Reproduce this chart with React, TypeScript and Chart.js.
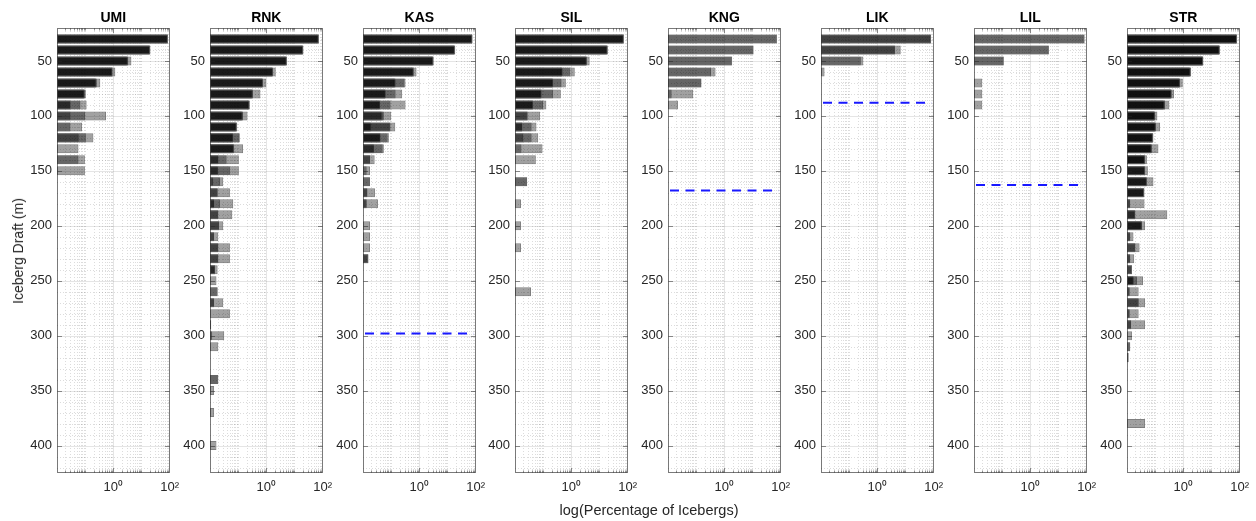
import React, { useEffect, useRef } from 'react';
import { Chart, registerables } from 'chart.js';

Chart.register(...registerables);

const N = null;

// ---- data ----
const PANEL_NAMES = ['UMI', 'RNK', 'KAS', 'SIL', 'KNG', 'LIK', 'LIL', 'STR'];
const DRAFT_START = 30; // centre of first 10 m draft bin
const DRAFT_STEP = 10;
const Y_TICKS = [50, 100, 150, 200, 250, 300, 350, 400];
const X_TICKS = [1, 100];
const X_MIN = 0.01;
const X_MAX = 100;
const Y_MIN = 20;
const Y_MAX = 425;

// percentage of icebergs per draft bin (30, 40, 50, ... m), one array per survey
const UMI = [
  [88, 21, 4.4, 1.18, 0.345, 0.106, 0.113, 0.55, 0.078, 0.196, 0.058, 0.098, 0.098],
  [87, 20, 3.4, 0.95, 0.26, 0.098, 0.068, 0.1, 0.03, 0.106, N, 0.058],
  [86, 20, 3.3, 0.92, 0.25, 0.095, 0.03, 0.03, N, 0.059],
  [85, 19.5, 3.2, 0.9, 0.24, 0.092, 0.03],
  [84, 19, 3.0, 0.85, 0.22, 0.088],
];
const RNK = [
  [74, 21, 5.5, 2.17, 1.0, 0.62, 0.26, 0.216, 0.093, 0.115, 0.15, 0.106, 0.106, 0.0296, 0.051, 0.067, 0.062, 0.0296, 0.0197, 0.051, 0.051, 0.0187, 0.017, 0.0187, 0.0296, 0.051, 0.011, 0.032, 0.0197, N, N, 0.0197, 0.014, N, 0.014, N, N, 0.017],
  [73, 20.5, 5.4, 1.74, 0.77, 0.34, 0.255, 0.15, 0.09, 0.11, 0.072, 0.039, 0.051, 0.0226, 0.0187, 0.0226, 0.0197, 0.021, 0.014, 0.0197, 0.0197, 0.015, N, 0.0187, 0.014, N, 0.011, 0.012, N, N, N, 0.0197],
  [72, 20, 5.2, 1.7, 0.75, 0.33, 0.25, 0.145, 0.088, 0.067, 0.07, 0.0197, 0.019, 0.013, 0.0187, 0.014, 0.0197, 0.021, 0.014, 0.0197, 0.0197, 0.015, N, N, 0.014],
  [71, 19.5, 5.0, 1.65, 0.72, 0.32, 0.24, 0.14, 0.085, 0.065, 0.068, 0.0197, 0.019, N, N, 0.014, N, N, N, N, N, 0.015],
  [70, 19, 4.8, 1.6, 0.7, 0.3, 0.23, 0.13, 0.08, 0.06, 0.065],
];
const KAS = [
  [78, 19, 3.26, 0.8, 0.325, 0.247, 0.325, 0.101, 0.14, 0.083, 0.055, 0.026, 0.0177, 0.0177, 0.0266, 0.034, N, 0.0177, 0.0177, 0.0177, 0.0155],
  [77, 18.5, 3.2, 0.64, 0.3, 0.144, 0.095, 0.055, 0.095, 0.075, 0.05, 0.0177, 0.0135, 0.0177, 0.0143, 0.0135, N, N, N, N, 0.0155],
  [76, 18, 3.1, 0.62, 0.144, 0.064, 0.04, 0.05, 0.09, 0.042, 0.0245, 0.0177, N, N, 0.0143, 0.0135, N, N, N, N, 0.0155],
  [75, 17.5, 3.0, 0.6, 0.14, 0.062, 0.04, 0.045, 0.0187, 0.04, 0.024],
  [74, 17, 2.9, 0.58, 0.13, 0.06, 0.038, N, 0.0187, 0.04],
];
const SIL = [
  [74, 20, 4.5, 1.33, 0.64, 0.425, 0.13, 0.077, 0.058, 0.067, 0.095, 0.055, N, 0.027, N, 0.0163, N, 0.0163, N, 0.0163, N, N, N, 0.037],
  [73, 19.5, 3.6, 0.89, 0.45, 0.227, 0.1, 0.028, 0.039, 0.039, 0.017, N, N, 0.027],
  [72, 19, 3.5, 0.49, 0.227, 0.088, 0.044, 0.028, 0.018, 0.0197],
  [71, 18.5, 3.4, 0.48, 0.22, 0.085, 0.042, N, 0.018],
  [70, 18, 3.3, 0.46, 0.21, 0.08, 0.04],
];
const KNG = [
  [74, 11, 1.9, 0.49, 0.156, 0.079, 0.0226],
  [73, 10.8, 1.85, 0.34, 0.15, 0.0135],
];
const LIK = [
  [82, 6.8, 0.32, 0.0134],
  [81, 4.3, 0.26],
  [80, 4.2],
];
const LIL = [
  [85, 4.6, 0.115, N, 0.0197, 0.0197, 0.0197],
  [84, 4.5, 0.113],
];
const STR = [
  [82, 20, 5.2, 1.9, 0.96, 0.47, 0.32, 0.12, 0.15, 0.087, 0.131, 0.051, 0.055, 0.087, 0.042, 0.042, 0.27, 0.044, 0.017, 0.028, 0.018, 0.015, 0.037, 0.026, 0.044, 0.026, 0.044, 0.015, 0.013, 0.0114, N, N, N, N, N, 0.044],
  [81, 19.7, 5.1, 1.85, 0.77, 0.39, 0.227, 0.1, 0.108, 0.085, 0.077, 0.044, 0.044, 0.051, 0.041, 0.013, 0.0197, 0.034, 0.013, 0.0197, 0.013, 0.015, 0.0226, 0.0124, 0.026, 0.0124, 0.014, N, 0.013, 0.0114],
  [80, 19.4, 5.0, 1.8, 0.76, 0.38, 0.22, 0.098, 0.105, 0.083, 0.075, 0.043, 0.043, 0.05, 0.04, 0.013, 0.0197, 0.034, 0.013, 0.0197, 0.013, 0.015, 0.017, 0.0124, 0.026, 0.0124, 0.014],
  [79, 19, 4.9, 1.75, 0.74, 0.37, 0.21, 0.095, 0.1, 0.08, 0.072, 0.042, 0.042, 0.049, 0.039, N, 0.019, 0.033, N, N, N, N, 0.017],
  [78, 18.7, 4.8, 1.7, 0.72, 0.36, 0.2, 0.092, 0.098, 0.078, 0.07, 0.041, 0.04, 0.048, 0.038, N, N, 0.03, N, N, N, N, 0.017],
  [77, 18.4, 4.7, 1.65, 0.7, 0.35, 0.19, 0.09, 0.095, 0.075, 0.068, 0.04],
];
const PANEL_SERIES = [UMI, RNK, KAS, SIL, KNG, LIK, LIL, STR];
// draft of the dashed reference line (m), null = none
const LIMIT_DRAFT = [N, N, 298, N, 168, 88, 163, N];

// ---- styling / layout ----
const FONT = '"Liberation Sans", Arial, Helvetica, sans-serif';
const TEXT_COLOR = '#262626';
const PLOT_LEFT0 = 57;
const PLOT_STEP = 152.8;
const PLOT_W = 113;
const Y_AXIS_W = 50;
const PAD_R = 16;
const CANVAS_H = 521;
const X_AXIS_H = 48;

const SUP: Record<string, string> = { '-': '⁻', '0': '⁰', '1': '¹', '2': '²', '3': '³', '4': '⁴', '5': '⁵', '6': '⁶', '7': '⁷', '8': '⁸', '9': '⁹' };
const fmtPow = (v: number) => {
  const e = Math.round(Math.log10(v));
  return '10' + String(e).split('').map((c) => SUP[c]).join('');
};

function makeAxesPlugin(limit: number | null) {
  return {
    id: 'matlabAxes',
    beforeDatasetsDraw(chart: any) {
      const { ctx, chartArea: a, scales } = chart;
      const x = scales.x;
      const y = scales.y;
      ctx.save();
      ctx.lineWidth = 1;
      const hline = (py: number) => {
        const p = Math.round(py) + 0.5;
        ctx.beginPath(); ctx.moveTo(a.left, p); ctx.lineTo(a.right, p); ctx.stroke();
      };
      const vline = (px: number) => {
        const p = Math.round(px) + 0.5;
        ctx.beginPath(); ctx.moveTo(p, a.top); ctx.lineTo(p, a.bottom); ctx.stroke();
      };
      // minor grid (dotted)
      ctx.setLineDash([1, 2]);
      ctx.strokeStyle = 'rgba(38,38,38,0.16)';
      for (let v = Y_MIN + DRAFT_STEP; v < Y_MAX; v += DRAFT_STEP) {
        if (!Y_TICKS.includes(v)) hline(y.getPixelForValue(v));
      }
      for (let k = -2; k < 2; k++) {
        for (let m = 1; m <= 9; m++) {
          const v = m * Math.pow(10, k);
          if (v <= X_MIN || v >= X_MAX || X_TICKS.includes(v)) continue;
          vline(x.getPixelForValue(v));
        }
      }
      // major grid (solid)
      ctx.setLineDash([]);
      ctx.strokeStyle = 'rgba(38,38,38,0.12)';
      Y_TICKS.forEach((v) => hline(y.getPixelForValue(v)));
      X_TICKS.forEach((v) => { if (v > X_MIN && v < X_MAX) vline(x.getPixelForValue(v)); });
      ctx.restore();
    },
    afterDatasetsDraw(chart: any) {
      const { ctx, chartArea: a, scales } = chart;
      const x = scales.x;
      const y = scales.y;
      ctx.save();
      // reference line
      if (limit !== null) {
        ctx.strokeStyle = 'rgb(25,25,255)';
        ctx.lineWidth = 2;
        ctx.setLineDash([9, 6.5]);
        const py = y.getPixelForValue(limit);
        ctx.beginPath(); ctx.moveTo(a.left + 2, py); ctx.lineTo(a.right - 2, py); ctx.stroke();
        ctx.setLineDash([]);
      }
      // box
      const L = Math.round(a.left) + 0.5, R = Math.round(a.right) - 0.5;
      const T = Math.round(a.top) + 0.5, B = Math.round(a.bottom) - 0.5;
      ctx.strokeStyle = 'rgba(38,38,38,0.62)';
      ctx.lineWidth = 1;
      ctx.strokeRect(L, T, R - L, B - T);
      // ticks (inward)
      ctx.strokeStyle = 'rgba(38,38,38,0.5)';
      ctx.beginPath();
      Y_TICKS.forEach((v) => {
        const p = Math.round(y.getPixelForValue(v)) + 0.5;
        ctx.moveTo(L, p); ctx.lineTo(L + 4.5, p);
        ctx.moveTo(R, p); ctx.lineTo(R - 4.5, p);
      });
      for (let k = -2; k < 2; k++) {
        for (let m = 1; m <= 9; m++) {
          const v = m * Math.pow(10, k);
          if (v <= X_MIN || v >= X_MAX) continue;
          const len = X_TICKS.includes(v) ? 4.5 : 2;
          const p = Math.round(x.getPixelForValue(v)) + 0.5;
          ctx.moveTo(p, B); ctx.lineTo(p, B - len);
          ctx.moveTo(p, T); ctx.lineTo(p, T + len);
        }
      }
      ctx.stroke();
      ctx.restore();
    },
  };
}

function Panel({ index }: { index: number }) {
  const ref = useRef<HTMLCanvasElement | null>(null);
  const plotLeft = Math.round(PLOT_LEFT0 + index * PLOT_STEP);
  const canvasW = Y_AXIS_W + PLOT_W + PAD_R;

  useEffect(() => {
    if (!ref.current) return;
    const series = PANEL_SERIES[index];
    const datasets = series.map((s) => ({
      data: s
        .map((v, i) => (v === null || v === undefined ? null : { x: v, y: DRAFT_START + i * DRAFT_STEP }))
        .filter((p) => p !== null),
      backgroundColor: 'rgba(0,0,0,0.37)',
      borderColor: 'rgba(95,95,95,0.8)',
      borderWidth: 1,
      borderSkipped: false,
      grouped: false,
      barPercentage: 0.82,
      categoryPercentage: 1,
    }));
    const tickFont = { family: FONT, size: 13 };
    const chart = new Chart(ref.current, {
      type: 'bar',
      data: { datasets: datasets as any },
      options: {
        indexAxis: 'y',
        responsive: false,
        animation: false,
        events: [],
        layout: { padding: { left: 0, right: PAD_R, top: 0, bottom: 0 } },
        scales: {
          x: {
            type: 'logarithmic',
            position: 'bottom',
            offset: false,
            min: X_MIN,
            max: X_MAX,
            afterBuildTicks: (s: any) => { s.ticks = X_TICKS.map((v) => ({ value: v })); },
            afterFit: (s: any) => { s.height = X_AXIS_H; },
            ticks: { callback: (v: any) => fmtPow(Number(v)), font: tickFont, color: TEXT_COLOR, padding: 7, maxRotation: 0, autoSkip: false },
            grid: { display: false, drawTicks: false, offset: false },
            border: { display: false },
          },
          y: {
            type: 'linear',
            reverse: true,
            offset: false,
            min: Y_MIN,
            max: Y_MAX,
            afterBuildTicks: (s: any) => { s.ticks = Y_TICKS.map((v) => ({ value: v })); },
            afterFit: (s: any) => { s.width = Y_AXIS_W; },
            ticks: { font: tickFont, color: TEXT_COLOR, padding: 5, autoSkip: false },
            grid: { display: false, drawTicks: false, offset: false },
            border: { display: false },
          },
        },
        plugins: {
          legend: { display: false },
          tooltip: { enabled: false },
          title: {
            display: true,
            text: PANEL_NAMES[index],
            fullSize: false,
            color: '#000',
            font: { family: FONT, size: 14, weight: 'bold' },
            padding: { top: 10, bottom: 1.2 },
          },
        },
      } as any,
      plugins: [makeAxesPlugin(LIMIT_DRAFT[index])],
    });
    return () => chart.destroy();
  }, [index]);

  return (
    <canvas
      ref={ref}
      width={canvasW}
      height={CANVAS_H}
      style={{ position: 'absolute', left: plotLeft - Y_AXIS_W, top: 0, width: canvasW, height: CANVAS_H }}
    />
  );
}

export default function App() {
  const labelStyle: React.CSSProperties = {
    position: 'absolute',
    fontFamily: FONT,
    color: TEXT_COLOR,
    whiteSpace: 'nowrap',
    lineHeight: '16px',
  };
  return (
    <div style={{ position: 'absolute', left: 0, top: 0, width: 1256, height: 521, background: '#fff', overflow: 'hidden' }}>
      {PANEL_NAMES.map((_, i) => (
        <Panel key={i} index={i} />
      ))}
      <div style={{ ...labelStyle, fontSize: 14, left: 18, top: 250.5, transform: 'translate(-50%, -50%) rotate(-90deg)' }}>
        Iceberg Draft (m)
      </div>
      <div style={{ ...labelStyle, fontSize: 14.5, left: 649, top: 510, transform: 'translate(-50%, -50%)' }}>
        log(Percentage of Icebergs)
      </div>
    </div>
  );
}
